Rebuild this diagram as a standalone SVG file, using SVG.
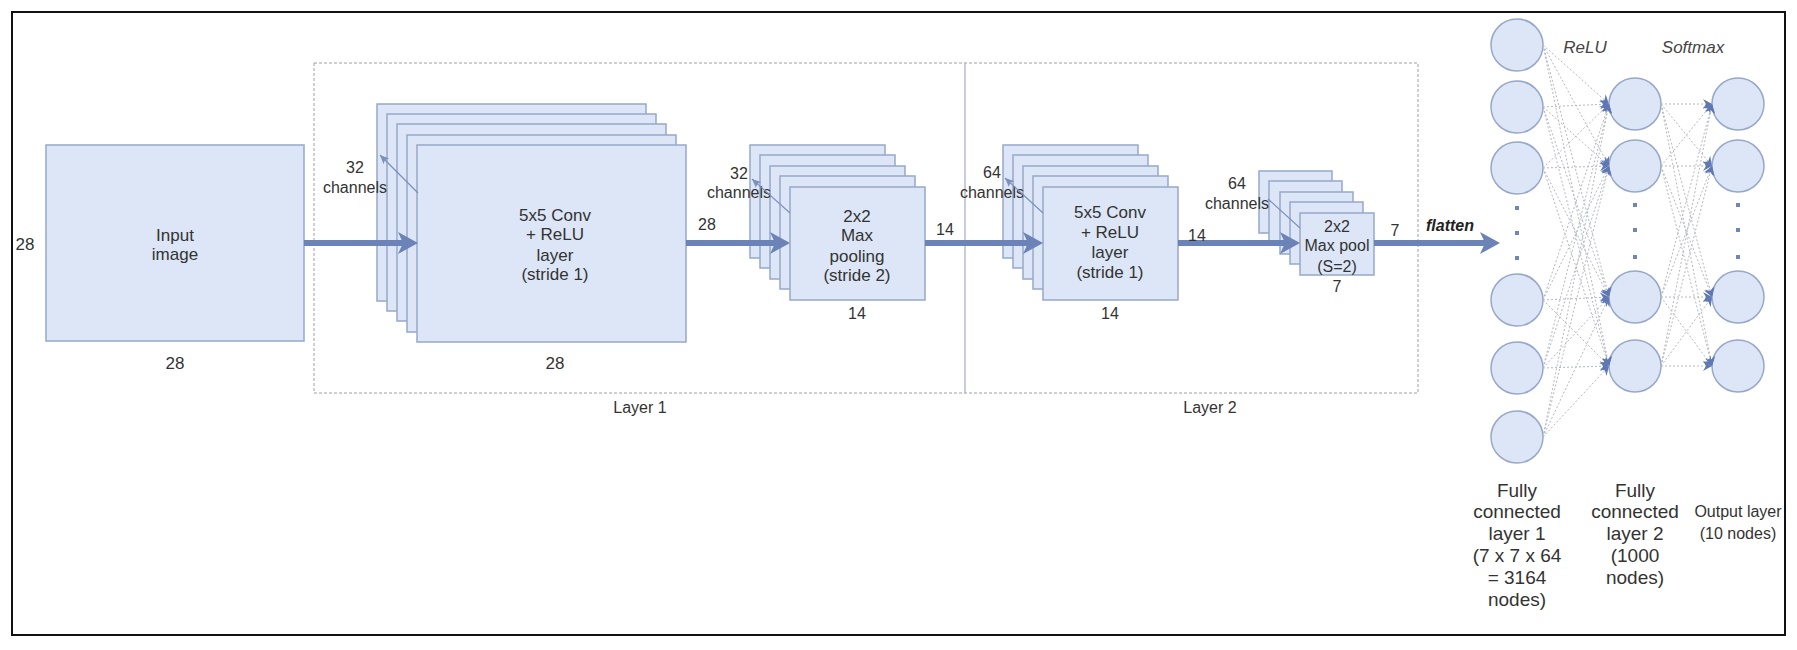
<svg xmlns="http://www.w3.org/2000/svg" width="1797" height="650" viewBox="0 0 1797 650">
<style>
  .box{fill:#dce6f6;stroke:#97a8c9;stroke-width:1.5}
  .node{fill:#dce6f6;stroke:#97a8c9;stroke-width:1.5}
  text{font-family:"Liberation Sans",Arial,sans-serif;fill:#333;text-anchor:middle}
  .t17{font-size:17px}
  .t16{font-size:16px}
  .t19{font-size:19px}
  .it{font-style:italic;font-size:17px;fill:#444}
  .fl{font-style:italic;font-weight:bold;font-size:16px;fill:#222}
  .big{stroke:#6c83b7;stroke-width:6;fill:none}
  .thin{stroke:#7d90bd;stroke-width:1.2;fill:none}
  .fc{stroke:#b4b8c2;stroke-width:1;stroke-dasharray:2 2;fill:none}
  .dot{fill:#7186b8}
</style>
<defs>
  <marker id="ah" markerUnits="userSpaceOnUse" markerWidth="22" markerHeight="24" refX="8" refY="12" orient="auto">
    <path d="M0,1 L20,12 L0,23 L5,12 z" fill="#6c83b7"/>
  </marker>
  <marker id="sh" markerUnits="userSpaceOnUse" markerWidth="10" markerHeight="8" refX="9" refY="4" orient="auto">
    <path d="M0,0 L9,4 L0,8 L2,4 z" fill="#7d90bd"/>
  </marker>
  <marker id="fh" markerUnits="userSpaceOnUse" markerWidth="10" markerHeight="10" refX="9" refY="5" orient="auto">
    <path d="M0,0 L9,5 L0,10 L3,5 z" fill="#5f78b4"/>
  </marker>
</defs>
<rect x="0" y="0" width="1797" height="650" fill="#ffffff"/>
<rect x="12" y="12" width="1773" height="623" fill="none" stroke="#111" stroke-width="2"/>

<g id="layers">
  <rect x="314" y="63" width="1104" height="330" fill="none" stroke="#a0a0a8" stroke-width="1" stroke-dasharray="3 2"/>
  <line x1="965" y1="63" x2="965" y2="393" stroke="#a3acbf" stroke-width="1.2"/>
  <text class="t16" x="640" y="413">Layer 1</text>
  <text class="t16" x="1210" y="413">Layer 2</text>
</g>

<g id="input">
  <rect class="box" x="46" y="145" width="258" height="196"/>
  <text class="t17" x="175" y="241">Input</text>
  <text class="t17" x="175" y="260">image</text>
  <text class="t17" x="25" y="250">28</text>
  <text class="t17" x="175" y="369">28</text>
</g>

<g id="conv1">
  <rect class="box" x="377" y="104" width="269" height="197"/>
  <rect class="box" x="387" y="114" width="269" height="197"/>
  <rect class="box" x="397" y="124" width="269" height="197"/>
  <rect class="box" x="407" y="135" width="269" height="197"/>
  <rect class="box" x="417" y="145" width="269" height="197"/>
  <text class="t17" x="555" y="221">5x5 Conv</text>
  <text class="t17" x="555" y="240">+ ReLU</text>
  <text class="t17" x="555" y="261">layer</text>
  <text class="t17" x="555" y="280">(stride 1)</text>
  <text class="t17" x="555" y="369">28</text>
  <text class="t16" x="355" y="173">32</text>
  <text class="t16" x="355" y="193">channels</text>
</g>

<g id="pool1">
  <rect class="box" x="750" y="145" width="135" height="113"/>
  <rect class="box" x="760" y="155" width="135" height="113"/>
  <rect class="box" x="770" y="166" width="135" height="113"/>
  <rect class="box" x="780" y="176" width="135" height="113"/>
  <rect class="box" x="790" y="187" width="135" height="113"/>
  <text class="t17" x="857" y="222">2x2</text>
  <text class="t17" x="857" y="241">Max</text>
  <text class="t17" x="857" y="262">pooling</text>
  <text class="t17" x="857" y="281">(stride 2)</text>
  <text class="t16" x="857" y="319">14</text>
  <text class="t16" x="739" y="179">32</text>
  <text class="t16" x="739" y="198">channels</text>
</g>

<g id="conv2">
  <rect class="box" x="1003" y="145" width="135" height="113"/>
  <rect class="box" x="1013" y="155" width="135" height="113"/>
  <rect class="box" x="1023" y="166" width="135" height="113"/>
  <rect class="box" x="1033" y="176" width="135" height="113"/>
  <rect class="box" x="1043" y="187" width="135" height="113"/>
  <text class="t17" x="1110" y="218">5x5 Conv</text>
  <text class="t17" x="1110" y="238">+ ReLU</text>
  <text class="t17" x="1110" y="258">layer</text>
  <text class="t17" x="1110" y="278">(stride 1)</text>
  <text class="t16" x="1110" y="319">14</text>
  <text class="t16" x="992" y="178">64</text>
  <text class="t16" x="992" y="198">channels</text>
</g>

<g id="pool2">
  <rect class="box" x="1259" y="171" width="73" height="62"/>
  <rect class="box" x="1269" y="181" width="73" height="62"/>
  <rect class="box" x="1280" y="192" width="73" height="62"/>
  <rect class="box" x="1290" y="202" width="73" height="62"/>
  <rect class="box" x="1300" y="213" width="74" height="62"/>
  <text class="t16" x="1337" y="232">2x2</text>
  <text class="t16" x="1337" y="251">Max pool</text>
  <text class="t16" x="1337" y="272">(S=2)</text>
  <text class="t16" x="1337" y="292">7</text>
  <text class="t16" x="1237" y="189">64</text>
  <text class="t16" x="1237" y="209">channels</text>
</g>

<g id="fc1">
  <circle class="node" cx="1517" cy="45" r="26"/>
  <circle class="node" cx="1517" cy="107" r="26"/>
  <circle class="node" cx="1517" cy="168" r="26"/>
  <rect class="dot" x="1515" y="206" width="4" height="4"/>
  <rect class="dot" x="1515" y="231" width="4" height="4"/>
  <rect class="dot" x="1515" y="256" width="4" height="4"/>
  <circle class="node" cx="1517" cy="300" r="26"/>
  <circle class="node" cx="1517" cy="368" r="26"/>
  <circle class="node" cx="1517" cy="437" r="26"/>
  <text class="t19" x="1517" y="497">Fully</text>
  <text class="t19" x="1517" y="518">connected</text>
  <text class="t19" x="1517" y="540">layer 1</text>
  <text class="t19" x="1517" y="562">(7 x 7 x 64</text>
  <text class="t19" x="1517" y="584">= 3164</text>
  <text class="t19" x="1517" y="606">nodes)</text>
</g>

<g id="fc2">
  <circle class="node" cx="1635" cy="104" r="26"/>
  <circle class="node" cx="1635" cy="166" r="26"/>
  <rect class="dot" x="1633" y="203" width="4" height="4"/>
  <rect class="dot" x="1633" y="228" width="4" height="4"/>
  <rect class="dot" x="1633" y="255" width="4" height="4"/>
  <circle class="node" cx="1635" cy="297" r="26"/>
  <circle class="node" cx="1635" cy="366" r="26"/>
  <text class="t19" x="1635" y="497">Fully</text>
  <text class="t19" x="1635" y="518">connected</text>
  <text class="t19" x="1635" y="540">layer 2</text>
  <text class="t19" x="1635" y="562">(1000</text>
  <text class="t19" x="1635" y="584">nodes)</text>
  <text class="it" x="1585" y="53">ReLU</text>
</g>

<g id="output">
  <circle class="node" cx="1738" cy="104" r="26"/>
  <circle class="node" cx="1738" cy="166" r="26"/>
  <rect class="dot" x="1736" y="203" width="4" height="4"/>
  <rect class="dot" x="1736" y="228" width="4" height="4"/>
  <rect class="dot" x="1736" y="255" width="4" height="4"/>
  <circle class="node" cx="1738" cy="297" r="26"/>
  <circle class="node" cx="1738" cy="366" r="26"/>
  <text class="t16" x="1738" y="517">Output layer</text>
  <text class="t16" x="1738" y="539">(10 nodes)</text>
  <text class="it" x="1693" y="53">Softmax</text>
</g>

<g id="connectors">
  <line class="big" x1="304" y1="243" x2="406" y2="243" marker-end="url(#ah)"/>
  <line class="big" x1="686" y1="243" x2="778" y2="243" marker-end="url(#ah)"/>
  <line class="big" x1="925" y1="243" x2="1031" y2="243" marker-end="url(#ah)"/>
  <line class="big" x1="1178" y1="243" x2="1288" y2="243" marker-end="url(#ah)"/>
  <line class="big" x1="1374" y1="243" x2="1488" y2="243" marker-end="url(#ah)"/>
  <text class="t16" x="707" y="230">28</text>
  <text class="t16" x="945" y="235">14</text>
  <text class="t16" x="1197" y="241">14</text>
  <text class="t16" x="1395" y="236">7</text>
  <text class="fl" x="1450" y="231">flatten</text>
  <line class="thin" x1="418" y1="193" x2="380" y2="155" marker-end="url(#sh)"/>
  <line class="thin" x1="790" y1="213" x2="752" y2="179" marker-end="url(#sh)"/>
  <line class="thin" x1="1043" y1="213" x2="1005" y2="178" marker-end="url(#sh)"/>
  <line class="thin" x1="1300" y1="228" x2="1268" y2="199"/>
  <g id="fc1-fc2">
    <line class="fc" x1="1543" y1="45" x2="1609" y2="104" marker-end="url(#fh)"/>
    <line class="fc" x1="1543" y1="45" x2="1609" y2="166" marker-end="url(#fh)"/>
    <line class="fc" x1="1543" y1="45" x2="1609" y2="297" marker-end="url(#fh)"/>
    <line class="fc" x1="1543" y1="45" x2="1609" y2="366" marker-end="url(#fh)"/>
    <line class="fc" x1="1543" y1="107" x2="1609" y2="104" marker-end="url(#fh)"/>
    <line class="fc" x1="1543" y1="107" x2="1609" y2="166" marker-end="url(#fh)"/>
    <line class="fc" x1="1543" y1="107" x2="1609" y2="297" marker-end="url(#fh)"/>
    <line class="fc" x1="1543" y1="107" x2="1609" y2="366" marker-end="url(#fh)"/>
    <line class="fc" x1="1543" y1="168" x2="1609" y2="104" marker-end="url(#fh)"/>
    <line class="fc" x1="1543" y1="168" x2="1609" y2="166" marker-end="url(#fh)"/>
    <line class="fc" x1="1543" y1="168" x2="1609" y2="297" marker-end="url(#fh)"/>
    <line class="fc" x1="1543" y1="168" x2="1609" y2="366" marker-end="url(#fh)"/>
    <line class="fc" x1="1543" y1="300" x2="1609" y2="104" marker-end="url(#fh)"/>
    <line class="fc" x1="1543" y1="300" x2="1609" y2="166" marker-end="url(#fh)"/>
    <line class="fc" x1="1543" y1="300" x2="1609" y2="297" marker-end="url(#fh)"/>
    <line class="fc" x1="1543" y1="300" x2="1609" y2="366" marker-end="url(#fh)"/>
    <line class="fc" x1="1543" y1="368" x2="1609" y2="104" marker-end="url(#fh)"/>
    <line class="fc" x1="1543" y1="368" x2="1609" y2="166" marker-end="url(#fh)"/>
    <line class="fc" x1="1543" y1="368" x2="1609" y2="297" marker-end="url(#fh)"/>
    <line class="fc" x1="1543" y1="368" x2="1609" y2="366" marker-end="url(#fh)"/>
    <line class="fc" x1="1543" y1="437" x2="1609" y2="104" marker-end="url(#fh)"/>
    <line class="fc" x1="1543" y1="437" x2="1609" y2="166" marker-end="url(#fh)"/>
    <line class="fc" x1="1543" y1="437" x2="1609" y2="297" marker-end="url(#fh)"/>
    <line class="fc" x1="1543" y1="437" x2="1609" y2="366" marker-end="url(#fh)"/>
  </g>
  <g id="fc2-out">
    <line class="fc" x1="1661" y1="104" x2="1712" y2="104" marker-end="url(#fh)"/>
    <line class="fc" x1="1661" y1="104" x2="1712" y2="166" marker-end="url(#fh)"/>
    <line class="fc" x1="1661" y1="104" x2="1712" y2="297" marker-end="url(#fh)"/>
    <line class="fc" x1="1661" y1="104" x2="1712" y2="366" marker-end="url(#fh)"/>
    <line class="fc" x1="1661" y1="166" x2="1712" y2="104" marker-end="url(#fh)"/>
    <line class="fc" x1="1661" y1="166" x2="1712" y2="166" marker-end="url(#fh)"/>
    <line class="fc" x1="1661" y1="166" x2="1712" y2="297" marker-end="url(#fh)"/>
    <line class="fc" x1="1661" y1="166" x2="1712" y2="366" marker-end="url(#fh)"/>
    <line class="fc" x1="1661" y1="297" x2="1712" y2="104" marker-end="url(#fh)"/>
    <line class="fc" x1="1661" y1="297" x2="1712" y2="166" marker-end="url(#fh)"/>
    <line class="fc" x1="1661" y1="297" x2="1712" y2="297" marker-end="url(#fh)"/>
    <line class="fc" x1="1661" y1="297" x2="1712" y2="366" marker-end="url(#fh)"/>
    <line class="fc" x1="1661" y1="366" x2="1712" y2="104" marker-end="url(#fh)"/>
    <line class="fc" x1="1661" y1="366" x2="1712" y2="166" marker-end="url(#fh)"/>
    <line class="fc" x1="1661" y1="366" x2="1712" y2="297" marker-end="url(#fh)"/>
    <line class="fc" x1="1661" y1="366" x2="1712" y2="366" marker-end="url(#fh)"/>
  </g>
</g>
</svg>
